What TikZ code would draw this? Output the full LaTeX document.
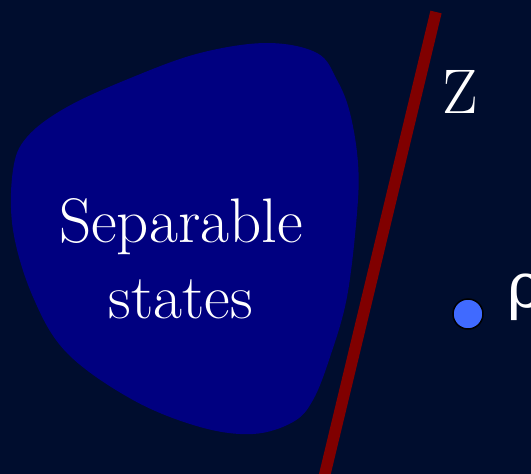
\documentclass[tikz,border=0pt]{standalone}
\usepackage{fontspec}
\newfontfamily\greekfont{DejaVu Serif}
\definecolor{bgnavy}{RGB}{0,13,46}
\definecolor{blobblue}{RGB}{0,0,128}
\definecolor{walldred}{RGB}{128,0,0}
\definecolor{dotblue}{RGB}{64,106,255}
\begin{document}
\begin{tikzpicture}[x=1pt,y=-1pt,
    bigtext/.style={text=white,font=\fontsize{63}{76}\selectfont,inner sep=0pt}]
    \fill[bgnavy] (0,0) rectangle (531,474);
    \useasboundingbox (0,0) rectangle (531,474);
    \coordinate (Wtop) at (436,12);
    \coordinate (Wbot) at (322,486);
    \coordinate (rho) at (468,314);
    \fill[blobblue] plot[smooth cycle,tension=0.6] coordinates {
        (267,43) (317,53) (337,80) (350,113) (358,163) (357,213)
        (347,297) (330,357) (313,400) (293,422) (253,434) (200,427)
        (133,400) (67,353) (33,297) (13,230) (13,170) (27,137)
        (67,107) (133,77) (200,53)};
    \node[bigtext,align=center] (sep) at (181,259) {Separable\\states};
    \draw[walldred,line width=11.5] (Wtop) -- (Wbot);
    \node[bigtext] (Z) at (460,92) {Z};
    \fill[dotblue,draw=black,line width=1.5] (rho) circle (15);
    \node[bigtext,anchor=base west] (rholabel) at (507,307) {\greekfont ρ};
\end{tikzpicture}
\end{document}
